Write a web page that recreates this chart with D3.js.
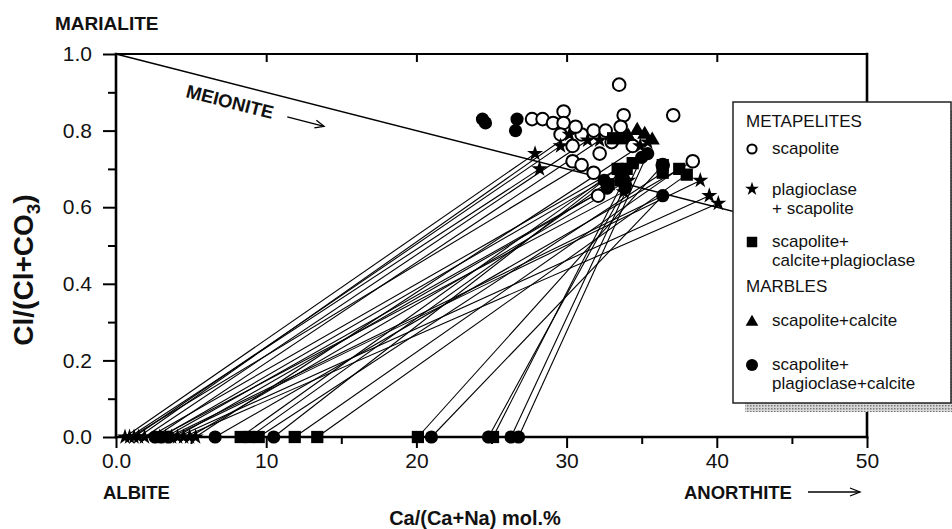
<!DOCTYPE html>
<html><head><meta charset="utf-8">
<script src="https://cdn.jsdelivr.net/npm/d3@7"></script>
<style>
body{margin:0;background:#fff}
svg{display:block}
text{font-family:"Liberation Sans",Arial,Helvetica,sans-serif;fill:#111}
</style>
</head><body>
<svg id="c" width="952" height="529"></svg>
<script>
// ---------- data ----------
const xTickVals = [0, 10, 20, 30, 40, 50];
const xTickLabels = ["0.0", "10", "20", "30", "40", "50"];
const xMinorTicks = [5, 15, 25, 35, 45];
const yTickVals = [0, 0.2, 0.4, 0.6, 0.8, 1.0];
const yTickLabels = ["0.0", "0.2", "0.4", "0.6", "0.8", "1.0"];
const yMinorTicks = [0.1, 0.3, 0.5, 0.7, 0.9];
const topTicks = [10, 20, 30, 40];

// meionite reference line (marialite -> meionite)
const meioniteLine = [[0, 1.0], [50, 0.5]];

// METAPELITES: scapolite (open circles)
const scapolitePts = [[33.5,0.92],[37.1,0.84],[33.8,0.84],[27.7,0.83],[28.4,0.83],[29.1,0.82],
  [29.8,0.85],[29.8,0.82],[29.6,0.79],[30.4,0.76],[31.0,0.79],[31.8,0.80],[32.6,0.80],[33.6,0.81],
  [34.4,0.76],[30.4,0.72],[31.0,0.71],[31.8,0.69],[32.1,0.63],[36.4,0.71],[38.4,0.72],[32.2,0.74],
  [30.6,0.81],[33.0,0.77]];

// METAPELITES: plagioclase + scapolite (stars)
const plagScapUpper = [[27.9,0.74],[28.2,0.70],[29.6,0.76],[30.2,0.79],[31.4,0.775],[32.2,0.775],
  [33.8,0.64],[38.9,0.67],[39.5,0.63],[40.1,0.61],[34.9,0.76],[35.4,0.77],[34.1,0.67]];
const plagScapBase = [0.6, 0.9, 1.2, 1.5, 1.9, 2.9, 3.3, 3.7, 4.1, 4.5, 4.9, 5.3];

// METAPELITES: scapolite + calcite + plagioclase (squares)
const scpCalPlagUpper = [[33.1,0.78],[33.7,0.78],[33.4,0.70],[34.0,0.70],[32.8,0.66],[33.6,0.67],
  [36.4,0.69],[36.4,0.71],[37.5,0.70],[38.0,0.685],[34.4,0.715]];
const scpCalPlagBase = [8.3, 8.9, 9.5, 11.9, 13.4, 20.1, 25.1];

// MARBLES: scapolite + calcite (triangles)
const scpCalPts = [[34.7,0.80],[35.7,0.775],[35.2,0.79],[34.1,0.785]];

// MARBLES: scapolite + plagioclase + calcite (filled circles)
const scpPlagCalUpper = [[24.4,0.83],[24.6,0.82],[26.7,0.83],[26.6,0.80],[36.4,0.63],[32.7,0.65],
  [32.5,0.67],[33.9,0.65],[35.0,0.73],[35.4,0.74]];
const scpPlagCalBase = [2.6, 3.0, 3.5, 6.6, 10.5, 21.0, 24.8, 26.3, 26.8];

// tie lines: [plagioclase Ca/(Ca+Na), scapolite Ca/(Ca+Na), scapolite Cl/(Cl+CO3)]
const tieLines = [[0.6,27.9,0.74],[0.9,28.2,0.70],[1.2,29.6,0.76],[1.5,30.2,0.79],[1.9,31.4,0.775],
  [2.6,32.2,0.775],[3.0,32.5,0.67],[2.9,33.8,0.64],[3.3,32.7,0.65],[3.7,38.9,0.67],[4.1,39.5,0.63],
  [4.5,40.1,0.61],[4.9,34.1,0.67],[5.3,34.9,0.76],[3.5,36.4,0.63],[1.0,31.0,0.71],[2.2,33.4,0.70],
  [4.0,33.6,0.67],[6.6,38.4,0.72],[8.3,33.4,0.70],[8.9,34.0,0.70],[9.5,36.4,0.69],[10.5,32.5,0.67],
  [11.9,37.5,0.70],[13.4,38.0,0.685],[20.1,36.4,0.71],[21.0,36.4,0.63],[24.8,33.9,0.65],
  [25.1,34.4,0.715],[26.3,35.0,0.73],[26.8,35.4,0.74]];

const legendItems = [
  {type:"head", lines:["METAPELITES"]},
  {type:"open", lines:["scapolite"]},
  {type:"star", lines:["plagioclase","+ scapolite"]},
  {type:"square", lines:["scapolite+","calcite+plagioclase"]},
  {type:"head", lines:["MARBLES"]},
  {type:"triangle", lines:["scapolite+calcite"]},
  {type:"filled", lines:["scapolite+","plagioclase+calcite"]}
];
const legendRowY = [121, 148, 189, 241, 286, 320, 364];

// ---------- drawing ----------
const svg = d3.select("#c");
const x = d3.scaleLinear().domain([0, 50]).range([116, 867]);
const y = d3.scaleLinear().domain([0, 1]).range([437, 54]);

const defs = svg.append("defs");
const pat = defs.append("pattern").attr("id","dots").attr("width",3).attr("height",3)
  .attr("patternUnits","userSpaceOnUse");
pat.append("rect").attr("width",3).attr("height",3).attr("fill","#d8d8d8");
pat.append("rect").attr("width",1.5).attr("height",1.5).attr("fill","#777");

// tie lines
svg.append("g").selectAll("line").data(tieLines).join("line")
  .attr("x1", d => x(d[0])).attr("y1", y(0))
  .attr("x2", d => x(d[1])).attr("y2", d => y(d[2]))
  .attr("stroke", "#000").attr("stroke-width", 1.1);

// meionite line
svg.append("line")
  .attr("x1", x(meioniteLine[0][0])).attr("y1", y(meioniteLine[0][1]))
  .attr("x2", x(meioniteLine[1][0])).attr("y2", y(meioniteLine[1][1]))
  .attr("stroke", "#000").attr("stroke-width", 1.5);

// axes
function styleAxis(g){
  g.selectAll(".tick line").attr("stroke","#000").attr("stroke-width",2);
  g.selectAll(".tick text").attr("font-size","21px").attr("fill","#111")
    .style("font-family",'"Liberation Sans",Arial,sans-serif');
  g.select(".domain").remove();
}
svg.append("g").attr("transform",`translate(${x(0)},0)`)
  .call(d3.axisLeft(y).tickValues(yTickVals).tickFormat((d,i)=>yTickLabels[i]).tickSize(13).tickPadding(11))
  .call(styleAxis);
svg.append("g").attr("transform",`translate(${x(0)},0)`)
  .call(d3.axisLeft(y).tickValues(yMinorTicks).tickFormat("").tickSize(8))
  .call(styleAxis);
svg.append("g").attr("transform",`translate(0,${y(0)})`)
  .call(d3.axisBottom(x).tickValues(xTickVals).tickFormat((d,i)=>xTickLabels[i]).tickSize(11).tickPadding(5))
  .call(styleAxis);
svg.append("g").attr("transform",`translate(0,${y(0)})`)
  .call(d3.axisBottom(x).tickValues(xMinorTicks).tickFormat("").tickSize(7))
  .call(styleAxis);
svg.append("g").attr("transform",`translate(0,${y(1)})`)
  .call(d3.axisBottom(x).tickValues(topTicks).tickFormat("").tickSize(8))
  .call(styleAxis);

// frame
const frame = svg.append("g").attr("stroke","#000").attr("fill","none").attr("stroke-linecap","square");
frame.append("line").attr("x1",x(0)).attr("x2",x(0)).attr("y1",y(1)).attr("y2",y(0)).attr("stroke-width",2.6);
frame.append("line").attr("x1",x(0)).attr("x2",x(50)).attr("y1",y(0)).attr("y2",y(0)).attr("stroke-width",2.6);
frame.append("line").attr("x1",x(0)).attr("x2",x(50)).attr("y1",y(1)).attr("y2",y(1)).attr("stroke-width",2.2);
frame.append("line").attr("x1",x(50)).attr("x2",x(50)).attr("y1",y(1)).attr("y2",y(0)).attr("stroke-width",2.6);

// symbols
const sym = (type, size) => d3.symbol().type(type).size(size)();
const gPts = svg.append("g");
// open circles
gPts.append("g").selectAll("circle").data(scapolitePts).join("circle")
  .attr("cx", d => x(d[0])).attr("cy", d => y(d[1])).attr("r", 6.3)
  .attr("fill", "#fff").attr("stroke", "#000").attr("stroke-width", 2);
// squares
gPts.append("g").selectAll("path").data(scpCalPlagUpper.concat(scpCalPlagBase.map(v=>[v,0]))).join("path")
  .attr("transform", d => `translate(${x(d[0])},${y(d[1])})`).attr("d", sym(d3.symbolSquare, 150)).attr("fill","#000");
// stars
gPts.append("g").selectAll("path").data(plagScapUpper.concat(plagScapBase.map(v=>[v,0]))).join("path")
  .attr("transform", d => `translate(${x(d[0])},${y(d[1])})`).attr("d", sym(d3.symbolStar, 80)).attr("fill","#000");
// triangles
gPts.append("g").selectAll("path").data(scpCalPts).join("path")
  .attr("transform", d => `translate(${x(d[0])},${y(d[1])})`).attr("d", sym(d3.symbolTriangle, 100)).attr("fill","#000");
// filled circles
gPts.append("g").selectAll("circle").data(scpPlagCalUpper.concat(scpPlagCalBase.map(v=>[v,0]))).join("circle")
  .attr("cx", d => x(d[0])).attr("cy", d => y(d[1])).attr("r", 6.6).attr("fill","#000");

// legend
svg.append("rect").attr("x",745).attr("y",111).attr("width",215).attr("height",301).attr("fill","url(#dots)");
svg.append("rect").attr("x",733).attr("y",102).attr("width",218).attr("height",301)
  .attr("fill","#fff").attr("stroke","#222").attr("stroke-width",1.5);
const lg = svg.append("g");
const LS = 19; // legend line spacing
legendItems.forEach((it,i) => {
  const cy = legendRowY[i];
  if (it.type === "head") {
    lg.append("text").attr("x",746).attr("y",cy+6).attr("font-size","17px").text(it.lines[0]);
    return;
  }
  it.lines.forEach((t,j) => lg.append("text").attr("x",772).attr("y",cy+6+j*LS).attr("font-size","17px").text(t));
  const sx = 752;
  if (it.type === "open") lg.append("circle").attr("cx",sx).attr("cy",cy+1).attr("r",4.6).attr("fill","#fff").attr("stroke","#000").attr("stroke-width",2);
  if (it.type === "star") lg.append("path").attr("transform",`translate(${sx},${cy})`).attr("d",sym(d3.symbolStar,60)).attr("fill","#000");
  if (it.type === "square") lg.append("path").attr("transform",`translate(${sx},${cy+1})`).attr("d",sym(d3.symbolSquare,110)).attr("fill","#000");
  if (it.type === "triangle") lg.append("path").attr("transform",`translate(${sx},${cy+2})`).attr("d",sym(d3.symbolTriangle,70)).attr("fill","#000");
  if (it.type === "filled") lg.append("circle").attr("cx",sx).attr("cy",cy+1).attr("r",6).attr("fill","#000");
});

// annotation texts
svg.append("text").attr("x",55).attr("y",30).attr("font-size","19px").attr("font-weight","bold").text("MARIALITE");
svg.append("text").attr("x",103).attr("y",499).attr("font-size","18.5px").attr("font-weight","bold").text("ALBITE");
svg.append("text").attr("x",684).attr("y",499).attr("font-size","18.5px").attr("font-weight","bold").text("ANORTHITE");
const arr = svg.append("g").attr("stroke","#000").attr("fill","none").attr("stroke-width",1.3);
arr.append("line").attr("x1",808).attr("y1",492).attr("x2",860).attr("y2",492);
arr.append("polyline").attr("points","850,488 860,492 850,496");
svg.append("text").attr("x",475).attr("y",525).attr("text-anchor","middle").attr("font-size","20px")
  .attr("font-weight","bold").text("Ca/(Ca+Na) mol.%");

// y title
const yt = svg.append("text").attr("transform","translate(33,270) rotate(-90)").attr("text-anchor","middle")
  .attr("font-size","28px").attr("font-weight","bold");
yt.append("tspan").text("Cl/(Cl+CO");
yt.append("tspan").attr("font-size","19px").attr("dy",7).text("3");
yt.append("tspan").attr("dy",-7).text(")");

// MEIONITE label with arrow
const ang = Math.atan2(y(meioniteLine[1][1]) - y(meioniteLine[0][1]), x(meioniteLine[1][0]) - x(meioniteLine[0][0])) * 180 / Math.PI;
const mg = svg.append("g").attr("transform",`translate(185,97) rotate(${ang})`);
mg.append("text").attr("x",0).attr("y",0).attr("font-size","18.5px").attr("font-weight","bold").text("MEIONITE");
mg.append("line").attr("x1",104).attr("y1",-6).attr("x2",142).attr("y2",-6).attr("stroke","#000").attr("stroke-width",1.3);
mg.append("polyline").attr("points","133,-10 142,-6 133,-2").attr("stroke","#000").attr("fill","none").attr("stroke-width",1.3);
</script>
</body></html>
